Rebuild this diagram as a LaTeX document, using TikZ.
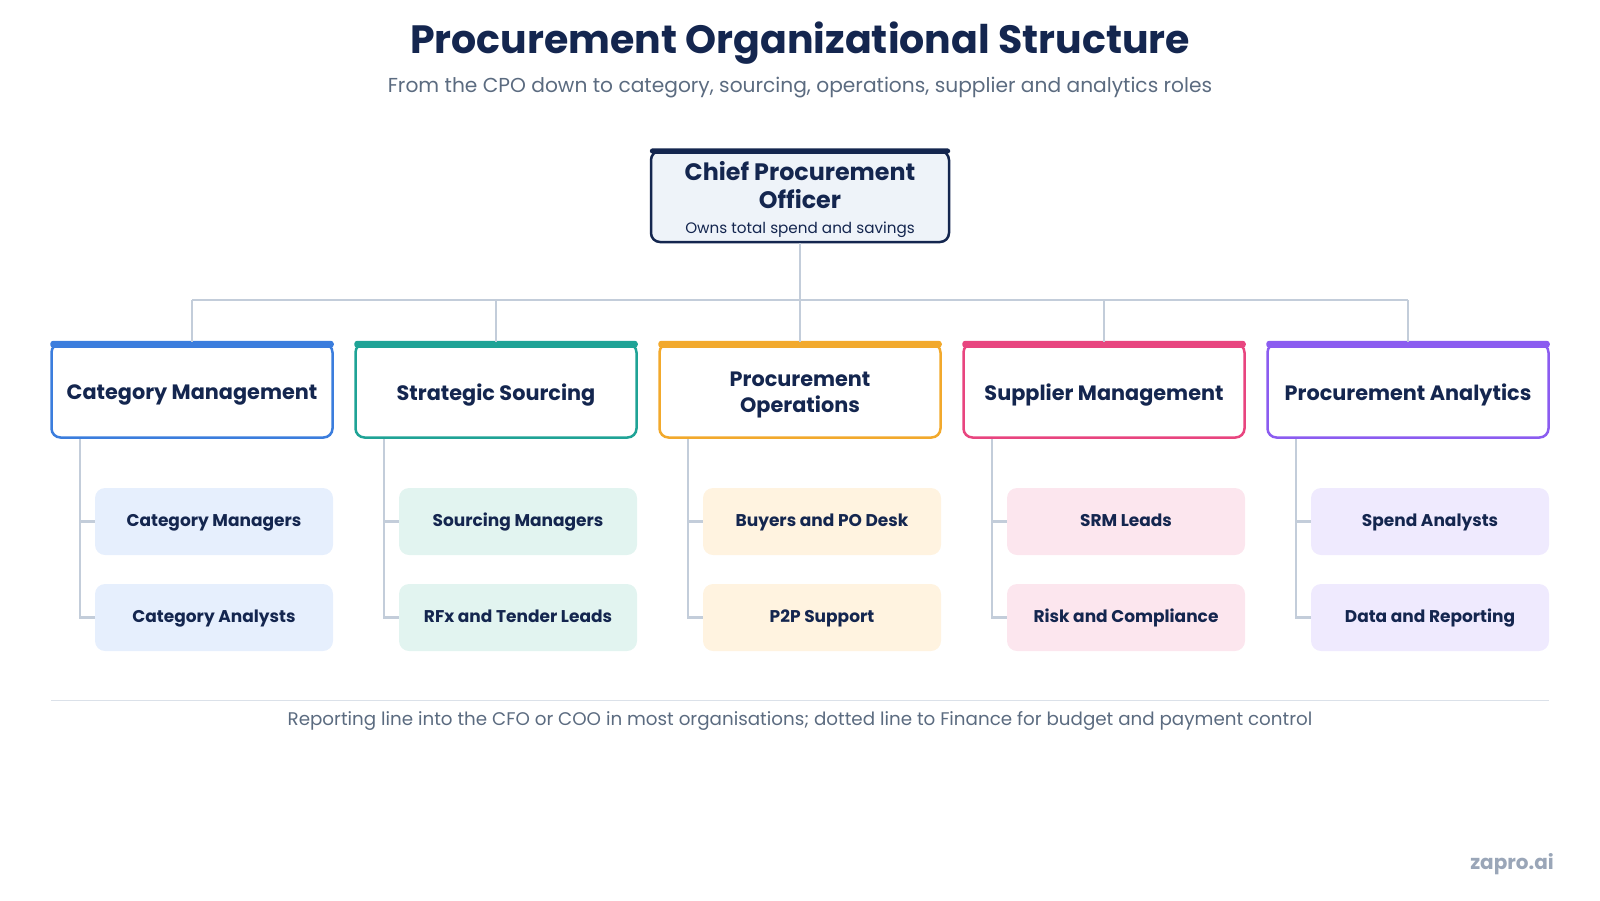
\documentclass[tikz,border=0pt]{standalone}
\usepackage{fontspec}
\setmainfont{Poppins}
\usetikzlibrary{calc}
\definecolor{navy}{HTML}{14264F}
\definecolor{subgray}{HTML}{5B6B80}
\definecolor{linec}{HTML}{C3CDDA}
\definecolor{brandc}{HTML}{9AA6B8}
\definecolor{cpofill}{HTML}{EEF3F9}
\definecolor{cblue}{HTML}{3B7DDD}\definecolor{fblue}{HTML}{E6EFFD}
\definecolor{cteal}{HTML}{1FA396}\definecolor{fteal}{HTML}{E2F4F0}
\definecolor{corange}{HTML}{F2A92C}\definecolor{forange}{HTML}{FFF3E0}
\definecolor{cpink}{HTML}{E8457F}\definecolor{fpink}{HTML}{FCE6EE}
\definecolor{cpurple}{HTML}{8B5CF0}\definecolor{fpurple}{HTML}{EFEAFE}
\tikzset{
  conn/.style={draw=linec, line width=2.5pt},
  groupbox/.style={draw=#1, line width=2.5pt, fill=white, rounded corners=9pt,
    minimum width=281pt, minimum height=94pt},
  grouplabel/.style={align=center, text=navy, inner sep=0pt,
    font=\fontsize{20.8}{25.5}\selectfont\bfseries},
  childbox/.style={fill=#1, rounded corners=10pt, minimum width=238pt,
    minimum height=67pt, text=navy, text height=12pt, text depth=2pt,
    font=\fontsize{17}{20}\selectfont\bfseries},
}
\begin{document}
\begin{tikzpicture}[x=1pt,y=-1pt]
\useasboundingbox (0,0) rectangle (1600,900);
\node[text=navy, font=\fontsize{39.5}{46}\selectfont\bfseries] (title) at (800,43) {Procurement Organizational Structure};
\node[text=subgray, font=\fontsize{20.2}{24}\selectfont] (sub) at (800,88) {From the CPO down to category, sourcing, operations, supplier and analytics roles};

% CPO
\node[draw=navy, line width=2.5pt, fill=cpofill, rounded corners=9pt, minimum width=298pt, minimum height=91pt] (cpo) at (800,196.5) {};
\fill[navy, rounded corners=3pt] ($(cpo.north west)+(0,-1.5)$) rectangle ($(cpo.north east)+(0,4)$);
\node[align=center, text=navy, inner sep=0pt, font=\fontsize{23.8}{28.6}\selectfont\bfseries] (cpot) at (800,185) {Chief Procurement\\Officer};
\node[text=navy, inner sep=0pt, font=\fontsize{15.2}{18}\selectfont] (cpos) at (800,230) {Owns total spend and savings};

\coordinate (bus) at (800,300);
\draw[conn] (cpo.south) -- (bus);

\foreach \i/\x/\col/\fil/\name/\ca/\cb in {
 1/192/cblue/fblue/{Category Management}/{Category Managers}/{Category Analysts},
 2/496/cteal/fteal/{Strategic Sourcing}/{Sourcing Managers}/{RFx and Tender Leads},
 3/800/corange/forange/{Procurement\\Operations}/{Buyers and PO Desk}/{P2P Support},
 4/1104/cpink/fpink/{Supplier Management}/{SRM Leads}/{Risk and Compliance},
 5/1408/cpurple/fpurple/{Procurement Analytics}/{Spend Analysts}/{Data and Reporting}}{
  \node[groupbox=\col] (g\i) at (\x,390.5) {};
  \fill[\col, rounded corners=3pt] ($(g\i.north west)+(0,-1.5)$) rectangle ($(g\i.north east)+(0,5.5)$);
  \node[grouplabel] (gl\i) at (\x,395) {\name};
  \node[childbox=\fil] (c\i a) at (\x+22,521.5) {\ca};
  \node[childbox=\fil] (c\i b) at (\x+22,617.5) {\cb};
  \coordinate (b\i) at (\x,300);
  \coordinate (s\i) at (\x-112,439);
  \coordinate (ta\i) at (\x-112,521.5);
  \coordinate (tb\i) at (\x-112,617.5);
  \draw[conn] (b\i) -- (g\i.north);
  \draw[conn] (s\i) -- (tb\i) -- (c\i b.west);
  \draw[conn] (ta\i) -- (c\i a.west);
}
\draw[conn] (b1) -- (b5);

\coordinate (fl) at (51,700);
\coordinate (fr) at (1549,700);
\draw[draw=linec!60, line width=1pt] (fl) -- (fr);
\node[text=subgray, font=\fontsize{18.3}{22}\selectfont] (foot) at (800,721) {Reporting line into the CFO or COO in most organisations; dotted line to Finance for budget and payment control};
\node[text=brandc, font=\fontsize{20}{24}\selectfont\bfseries] (brand) at (1512,864) {zapro.ai};
\end{tikzpicture}
\end{document}
